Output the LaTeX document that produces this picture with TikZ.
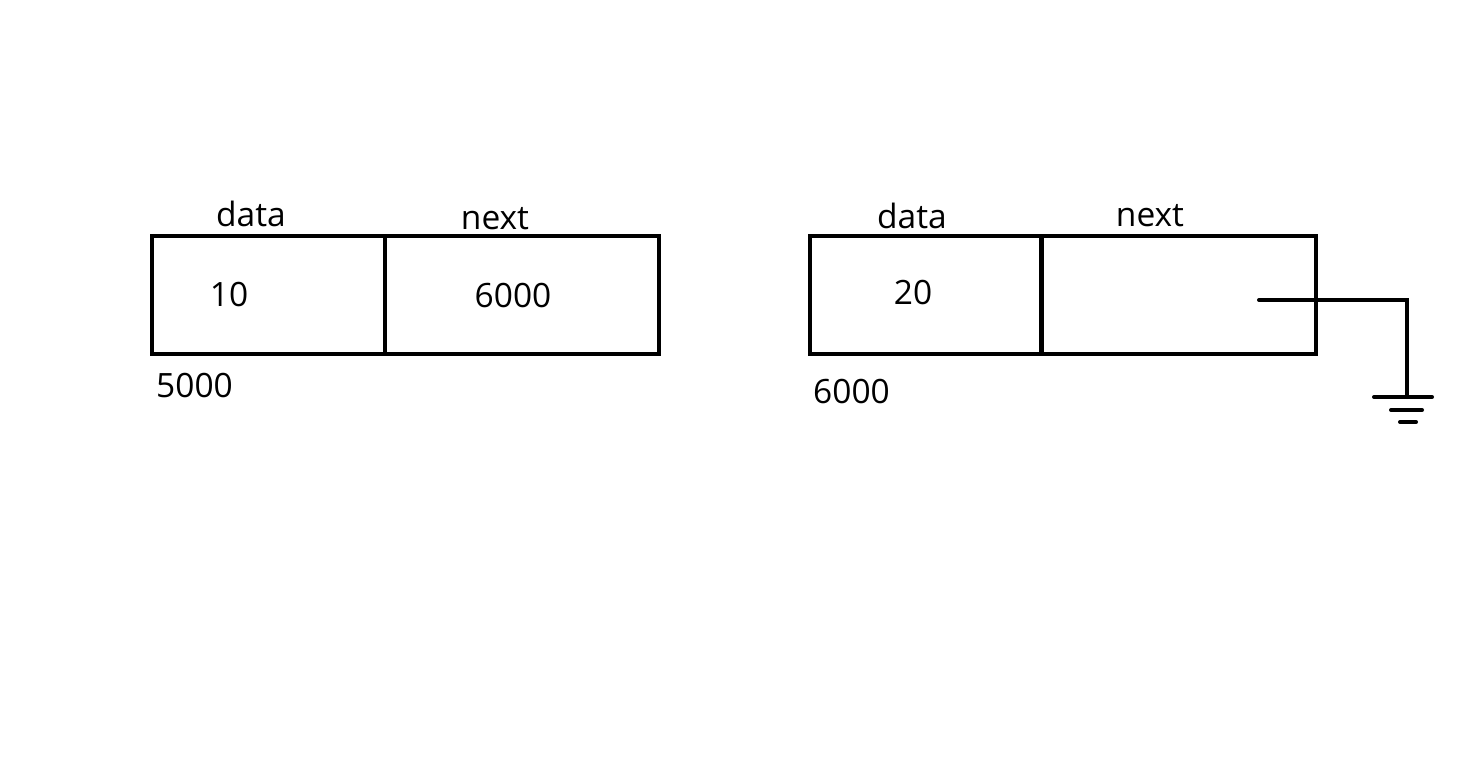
\documentclass[tikz,border=0pt]{standalone}
\usepackage{fontspec}
\setmainfont{Open Sans}
\begin{document}
\begin{tikzpicture}[x=1pt,y=-1pt,
  cell/.style={draw,line width=4pt,inner sep=0pt,minimum height=118pt},
  lbl/.style={anchor=base,inner sep=0pt,font=\fontsize{33.5}{40}\selectfont},
  wire/.style={line width=4pt,line cap=round}]
\useasboundingbox (0,0) rectangle (1474,768);
% first node
\node[cell,minimum width=233pt] (d1) at (268.5,295) {};
\node[cell,minimum width=274pt] (n1) at (521.5,295) {};
\node[lbl] (d1t) at (251,226) {data};
\node[lbl] (n1t) at (495,229) {next};
\node[lbl] (v1) at (229,306) {10};
\node[lbl] (p1) at (513,307) {6000};
\node[lbl,anchor=base west] (a1) at (156,397) {5000};
% second node
\node[cell,minimum width=231pt] (d2) at (925.5,295) {};
\node[cell,minimum width=274pt] (n2) at (1178.5,295) {};
\node[lbl] (d2t) at (912,228) {data};
\node[lbl] (n2t) at (1150,226) {next};
\node[lbl] (v2) at (913,304) {20};
\node[lbl,anchor=base west] (a2) at (813,403) {6000};
% null pointer to ground
\coordinate (s) at (1259,300);
\coordinate (c) at (1407,300);
\coordinate (g) at (1407,397);
\coordinate (g1l) at (1374,397); \coordinate (g1r) at (1432,397);
\coordinate (g2l) at (1391,410); \coordinate (g2r) at (1422,410);
\coordinate (g3l) at (1400,422); \coordinate (g3r) at (1416,422);
\draw[wire,line join=miter] (s) -- (c) -- (g);
\draw[wire] (g1l) -- (g1r);
\draw[wire] (g2l) -- (g2r);
\draw[wire] (g3l) -- (g3r);
\end{tikzpicture}
\end{document}
